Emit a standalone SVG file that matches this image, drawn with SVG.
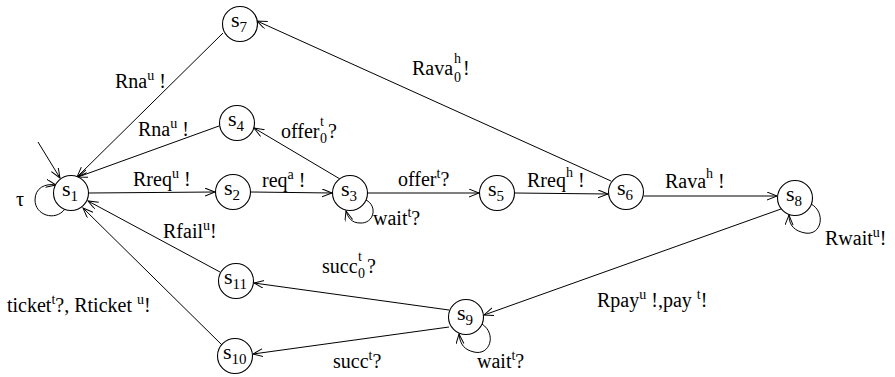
<svg xmlns="http://www.w3.org/2000/svg" width="895" height="377" viewBox="0 0 895 377">
  <style>
    .node circle { fill: #fff; stroke: #000; stroke-width: 1.1; }
    .nl { font-family: "Liberation Serif", "Times New Roman", serif; font-size: 22px; fill: #000; }
    .nl .sub { font-size: 15px; }
    .edges path, .edges line { fill: none; stroke: #000; stroke-width: 1; }
    .lbl { font-family: "Liberation Serif", "Times New Roman", serif; font-size: 20px; fill: #000; }
    .sm { font-size: 14px; }
  </style>
  <defs>
    <marker id="arr" markerUnits="userSpaceOnUse" markerWidth="12" markerHeight="10" refX="10" refY="4" orient="auto">
      <path d="M0,0 L10,4 L0,8" fill="none" stroke="#000" stroke-width="1"/>
    </marker>
  </defs>

  <rect width="895" height="377" fill="#fff"/>

  <!-- transitions -->
  <g class="edges">
    <line x1="38" y1="142" x2="60" y2="178" marker-end="url(#arr)"/>
    <path d="M65,209 C55,222 35,215 35,200 C35,188 45,183 56,185" marker-end="url(#arr)"/>
    <line x1="223" y1="33" x2="77" y2="177" marker-end="url(#arr)"/>
    <line x1="219" y1="126" x2="78" y2="177" marker-end="url(#arr)"/>
    <line x1="611" y1="181" x2="257" y2="21" marker-end="url(#arr)"/>
    <line x1="340" y1="179" x2="254" y2="128" marker-end="url(#arr)"/>
    <line x1="89" y1="193" x2="215" y2="192" marker-end="url(#arr)"/>
    <line x1="251" y1="192" x2="332" y2="193" marker-end="url(#arr)"/>
    <path d="M366,200 C378,206 374,224 360,223 C352,223 348,218 346,211" marker-end="url(#arr)"/>
    <line x1="368" y1="193" x2="479" y2="193" marker-end="url(#arr)"/>
    <line x1="515" y1="193" x2="608" y2="194" marker-end="url(#arr)"/>
    <line x1="644" y1="196" x2="777" y2="196" marker-end="url(#arr)"/>
    <path d="M811,204 C826,212 822,236 805,233 C795,231 789,226 789,215" marker-end="url(#arr)"/>
    <line x1="781" y1="209" x2="484" y2="315" marker-end="url(#arr)"/>
    <path d="M482,324 C497,334 490,356 474,352 C465,350 460,345 459,334" marker-end="url(#arr)"/>
    <line x1="449" y1="310" x2="254" y2="283" marker-end="url(#arr)"/>
    <line x1="449" y1="327" x2="253" y2="354" marker-end="url(#arr)"/>
    <line x1="220" y1="272" x2="88" y2="201" marker-end="url(#arr)"/>
    <line x1="222" y1="345" x2="83" y2="208" marker-end="url(#arr)"/>
  </g>

  <!-- transition labels -->
  <g class="labels">
    <text class="lbl" x="16" y="206" font-size="22">τ</text>
    <text class="lbl" x="115" y="88">Rna<tspan class="sm" dy="-8">u</tspan><tspan dy="8"> !</tspan></text>
    <text class="lbl" x="138" y="136">Rna<tspan class="sm" dy="-8">u</tspan><tspan dy="8"> !</tspan></text>
    <text class="lbl" x="412" y="75">Rava<tspan class="sm" x="454" dy="7">0</tspan><tspan class="sm" x="454" dy="-19">h</tspan><tspan x="463" dy="12">!</tspan></text>
    <text class="lbl" x="281" y="138">offer<tspan class="sm" x="320" dy="5">0</tspan><tspan class="sm" x="320" dy="-17">t</tspan><tspan x="328" dy="12">?</tspan></text>
    <text class="lbl" x="133" y="186">Rreq<tspan class="sm" dy="-8">u</tspan><tspan dy="8"> !</tspan></text>
    <text class="lbl" x="262" y="187">req<tspan class="sm" dy="-8">a</tspan><tspan dy="8"> !</tspan></text>
    <text class="lbl" x="373" y="225">wait<tspan class="sm" dy="-8">t</tspan><tspan dy="8">?</tspan></text>
    <text class="lbl" x="398" y="186">offer<tspan class="sm" dy="-8">t</tspan><tspan dy="8">?</tspan></text>
    <text class="lbl" x="527" y="187">Rreq<tspan class="sm" dy="-10">h</tspan><tspan dy="10"> !</tspan></text>
    <text class="lbl" x="665" y="188">Rava<tspan class="sm" dy="-10">h</tspan><tspan dy="10"> !</tspan></text>
    <text class="lbl" x="825" y="245">Rwait<tspan class="sm" dy="-8">u</tspan><tspan dy="8">!</tspan></text>
    <text class="lbl" x="597" y="307">Rpay<tspan class="sm" dy="-8">u</tspan><tspan dy="8"> !,pay </tspan><tspan class="sm" dy="-8">t</tspan><tspan dy="8">!</tspan></text>
    <text class="lbl" x="322" y="273">succ<tspan class="sm" x="358" dy="5">0</tspan><tspan class="sm" x="358" dy="-17">t</tspan><tspan x="367" dy="12">?</tspan></text>
    <text class="lbl" x="333" y="368">succ<tspan class="sm" dy="-8">t</tspan><tspan dy="8">?</tspan></text>
    <text class="lbl" x="477" y="368">wait<tspan class="sm" dy="-8">t</tspan><tspan dy="8">?</tspan></text>
    <text class="lbl" x="163" y="238">Rfail<tspan class="sm" dy="-8">u</tspan><tspan dy="8">!</tspan></text>
    <text class="lbl" x="7" y="312">ticket<tspan class="sm" dy="-8">t</tspan><tspan dy="8">?, Rticket </tspan><tspan class="sm" dy="-8">u</tspan><tspan dy="8">!</tspan></text>
  </g>

  <!-- states -->
  <g id="s1" class="node"><circle cx="71" cy="193" r="17.5"/><text class="nl" x="62" y="196">s<tspan class="sub" dy="5">1</tspan></text></g>
  <g id="s2" class="node"><circle cx="233" cy="192" r="17.5"/><text class="nl" x="224" y="195">s<tspan class="sub" dy="5">2</tspan></text></g>
  <g id="s3" class="node"><circle cx="350" cy="193" r="17.5"/><text class="nl" x="341" y="196">s<tspan class="sub" dy="5">3</tspan></text></g>
  <g id="s4" class="node"><circle cx="237" cy="123" r="17.5"/><text class="nl" x="228" y="126">s<tspan class="sub" dy="5">4</tspan></text></g>
  <g id="s5" class="node"><circle cx="497" cy="193" r="17.5"/><text class="nl" x="488" y="196">s<tspan class="sub" dy="5">5</tspan></text></g>
  <g id="s6" class="node"><circle cx="626" cy="192" r="17.5"/><text class="nl" x="617" y="195">s<tspan class="sub" dy="5">6</tspan></text></g>
  <g id="s7" class="node"><circle cx="240" cy="24" r="17.5"/><text class="nl" x="231" y="27">s<tspan class="sub" dy="5">7</tspan></text></g>
  <g id="s8" class="node"><circle cx="795" cy="198" r="17.5"/><text class="nl" x="786" y="201">s<tspan class="sub" dy="5">8</tspan></text></g>
  <g id="s9" class="node"><circle cx="466" cy="317" r="17.5"/><text class="nl" x="457" y="320">s<tspan class="sub" dy="5">9</tspan></text></g>
  <g id="s10" class="node"><circle cx="235" cy="356" r="17.5"/><text class="nl" x="223" y="359">s<tspan class="sub" dy="5">10</tspan></text></g>
  <g id="s11" class="node"><circle cx="236" cy="281" r="17.5"/><text class="nl" x="224" y="284">s<tspan class="sub" dy="5">11</tspan></text></g>
</svg>
